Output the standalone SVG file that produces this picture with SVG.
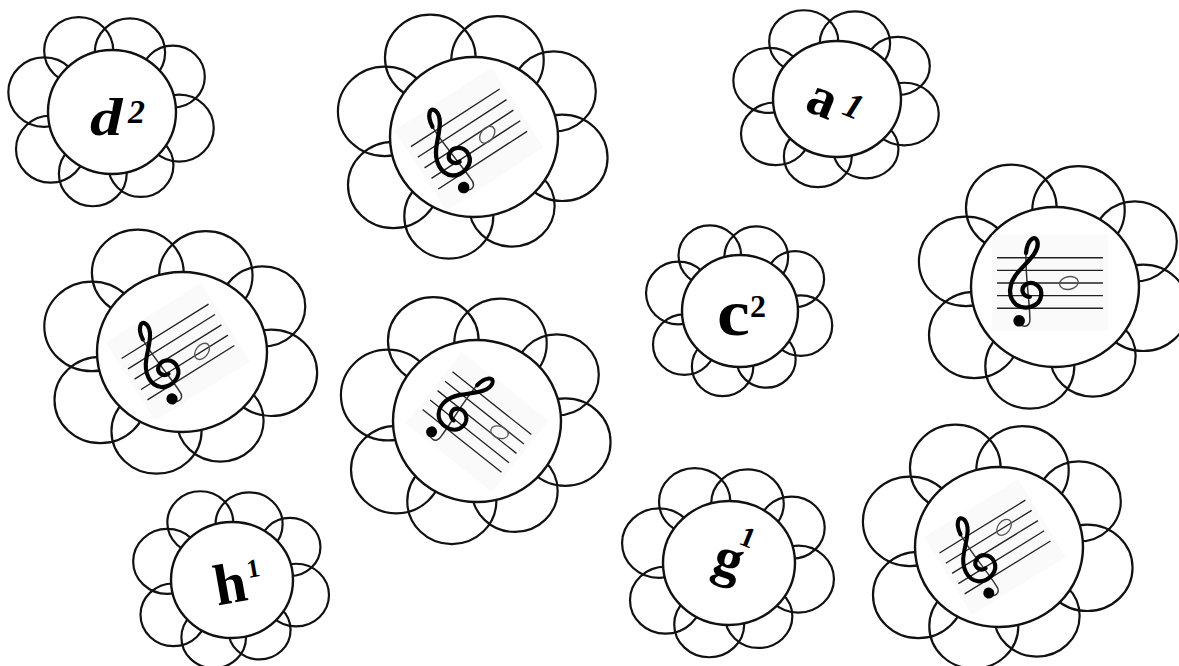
<svg xmlns="http://www.w3.org/2000/svg" xmlns:xlink="http://www.w3.org/1999/xlink" width="1179" height="666" viewBox="0 0 1179 666">
<style>
.pt{fill:none;stroke:#111;stroke-width:2.2}
.ct{fill:#fff;stroke:#111;stroke-width:2.4}
.bg{fill:#fafafa}
.ln{stroke:#222;stroke-width:1.1;fill:none}
.thin{stroke:#333;stroke-width:1.2;fill:none}
.thick{stroke:#000;stroke-width:3.4;fill:none;stroke-linecap:round}
.nt{fill:none;stroke:#555;stroke-width:1.1}
.lbl{font-family:"Liberation Serif","Times New Roman",serif;font-weight:bold;fill:#000}
</style>
<defs>
<g id="petals">
<circle class="pt" vector-effect="non-scaling-stroke" cx="-52" cy="-99" r="54"/>
<circle class="pt" vector-effect="non-scaling-stroke" cx="28" cy="-96" r="55"/>
<circle class="pt" vector-effect="non-scaling-stroke" cx="95" cy="-57" r="50"/>
<circle class="pt" vector-effect="non-scaling-stroke" cx="105" cy="26" r="54"/>
<circle class="pt" vector-effect="non-scaling-stroke" cx="45" cy="86" r="51"/>
<circle class="pt" vector-effect="non-scaling-stroke" cx="-30" cy="99" r="53"/>
<circle class="pt" vector-effect="non-scaling-stroke" cx="-96" cy="60" r="54"/>
<circle class="pt" vector-effect="non-scaling-stroke" cx="-106" cy="-32" r="56"/>
<circle class="ct" vector-effect="non-scaling-stroke" cx="0" cy="0" r="100"/>
</g>
<g id="staff">
<rect class="bg" x="-46" y="-38" width="92" height="76"/>
<path class="ln" d="M-42,-20H42M-42,-10H42M-42,0H42M-42,10H42M-42,20H42"/>
<path class="thin" d="M-25,30 C-24,36 -15,36 -16,28 C-16,15 -20,-8 -19,-24"/>
<path class="thick" d="M-19,-24 C-18,-34 -12,-39 -10,-33 C-8,-25 -18,-17 -25,-9 C-33,0 -34,11 -27,17 C-20,22 -8,19 -7,10 C-6,2 -14,-2 -19,1 C-24,4 -22,11 -16,11"/>
<circle cx="-24.5" cy="30" r="4.6" fill="#000"/>
</g>
</defs>

<g id="flower-d2">
<use xlink:href="#petals" transform="translate(112,112) scale(0.64,0.62)"/>
<text class="lbl" transform="translate(90,135) scale(1.25,1)" font-size="52" font-style="italic">d</text>
<text class="lbl" x="128" y="123" font-size="34" font-style="italic">2</text>
</g>

<g id="flower-staff-a1">
<use xlink:href="#petals" transform="translate(474,137) scale(0.84,0.80)"/>
<g transform="translate(469,139) rotate(-33) scale(1.26)">
<use xlink:href="#staff"/>
<ellipse class="nt" cx="14" cy="5" rx="7.5" ry="5" transform="rotate(-20 14 5)"/>
</g>
</g>

<g id="flower-a1">
<use xlink:href="#petals" transform="translate(837,99) scale(0.64,0.58)"/>
<text class="lbl" transform="translate(821,103) rotate(22)" y="13" font-size="56" text-anchor="middle">a</text>
<text class="lbl" transform="translate(854,105) rotate(22)" y="13" font-size="36" font-style="italic" text-anchor="middle">1</text>
</g>

<g id="flower-staff-g1">
<use xlink:href="#petals" transform="translate(182,352) scale(0.85,0.80)"/>
<g transform="translate(178,352) rotate(-32) scale(1.22)">
<use xlink:href="#staff"/>
<ellipse class="nt" cx="17" cy="10" rx="7.5" ry="5" transform="rotate(-20 17 10)"/>
</g>
</g>

<g id="flower-staff-c2">
<use xlink:href="#petals" transform="translate(477,421) scale(0.84,0.81)"/>
<g transform="translate(477,422) rotate(38.5) scale(1.2)">
<use xlink:href="#staff"/>
<ellipse class="nt" cx="20" cy="-5" rx="7.5" ry="5" transform="rotate(-20 20 -5)"/>
</g>
</g>

<g id="flower-c2">
<use xlink:href="#petals" transform="translate(740,311) scale(0.58,0.56)"/>
<text class="lbl" transform="translate(717,335) scale(1.12,1)" font-size="66">c</text>
<text class="lbl" x="750" y="317" font-size="32">2</text>
</g>

<g id="flower-staff-h1">
<use xlink:href="#petals" transform="translate(1055,287) scale(0.84,0.80)"/>
<g transform="translate(1050,283) scale(1.26)">
<use xlink:href="#staff"/>
<ellipse class="nt" cx="15" cy="0" rx="7.5" ry="5" transform="rotate(-10 15 0)"/>
</g>
</g>

<g id="flower-h1">
<use xlink:href="#petals" transform="translate(232,580) scale(0.61,0.58)"/>
<text class="lbl" transform="translate(230,583) rotate(-10)" y="20" font-size="58" text-anchor="middle">h</text>
<text class="lbl" transform="translate(253,568) rotate(-10)" y="9" font-size="26" text-anchor="middle">1</text>
</g>

<g id="flower-g1">
<use xlink:href="#petals" transform="translate(729,563) scale(0.66,0.62)"/>
<text class="lbl" transform="translate(726,568) rotate(18)" y="8" font-size="56" text-anchor="middle">g</text>
<text class="lbl" transform="translate(748,537) rotate(22)" y="10" font-size="29" text-anchor="middle">1</text>
</g>

<g id="flower-staff-d2">
<use xlink:href="#petals" transform="translate(999,547) scale(0.84,0.80)"/>
<g transform="translate(995,547) rotate(-31.6) scale(1.2)">
<use xlink:href="#staff"/>
<ellipse class="nt" cx="15" cy="-10" rx="7.5" ry="5" transform="rotate(-20 15 -10)"/>
</g>
</g>
</svg>
